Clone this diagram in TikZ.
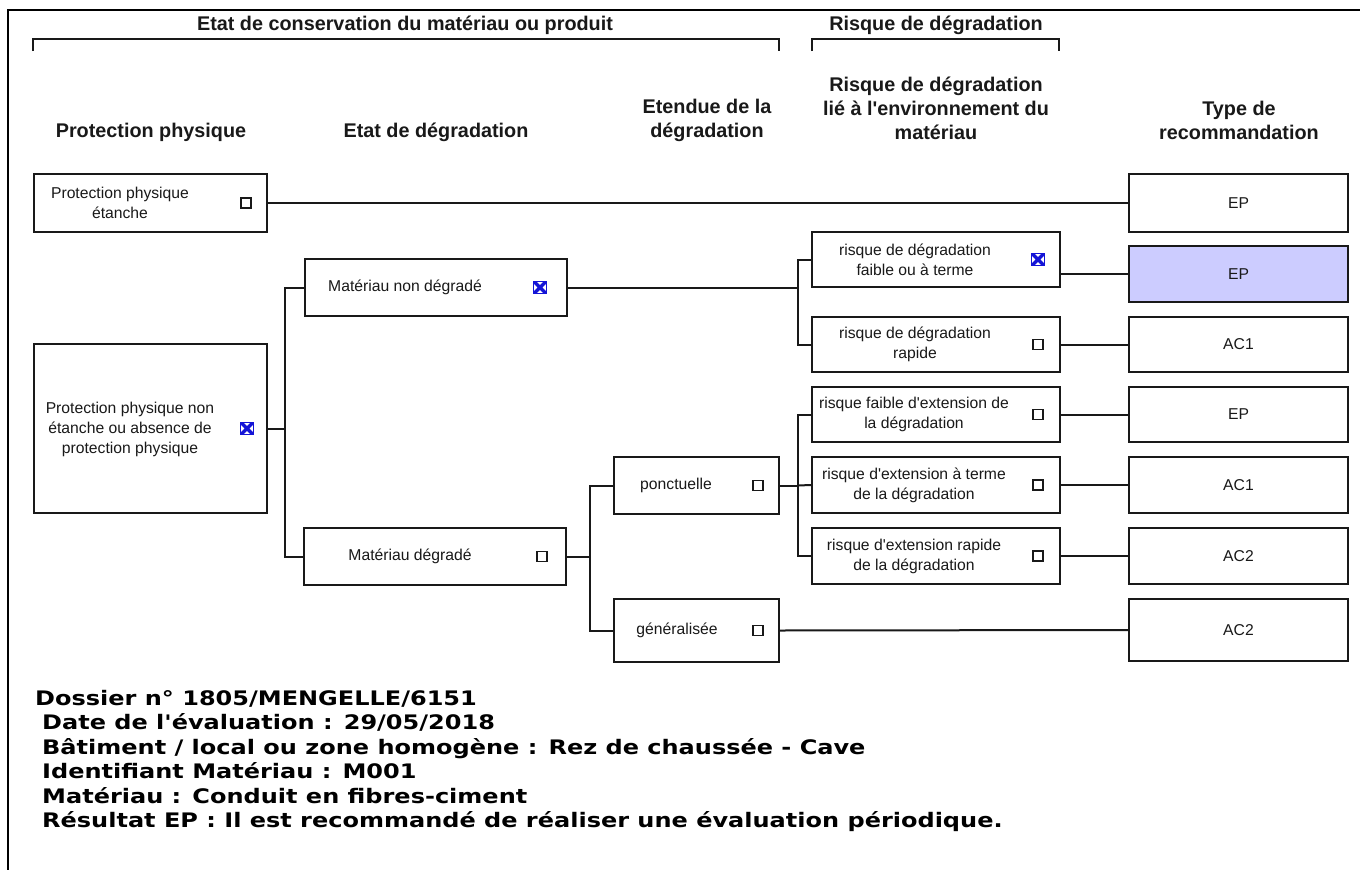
\documentclass[tikz,border=0pt]{standalone}
\usepackage{fontspec}
\newfontfamily\arl{Liberation Sans}
\newfontfamily\verd[FakeStretch=1.2]{DejaVu Sans}
\usetikzlibrary{calc}
\definecolor{shade}{RGB}{204,204,255}
\definecolor{xblue}{RGB}{20,20,215}
\definecolor{ink}{RGB}{25,25,25}
\begin{document}
\begin{tikzpicture}[x=1pt,y=-1pt,
  frame/.style={line width=2.6pt,black},
  brk/.style={line width=1.9pt,ink},
  hdr/.style={font=\arl\fontsize{19.8}{24}\selectfont\bfseries,text=ink,align=center,inner sep=0},
  box/.style={draw=ink,line width=2pt,fill=white,inner sep=0,rectangle},
  txt/.style={font=\arl\fontsize{15.7}{20}\selectfont,text=ink,align=center,inner sep=0},
  wire/.style={line width=2pt,ink},
  cbox/.style={draw=ink,line width=1.1pt,fill=white,minimum size=10pt,inner sep=0},
  xbox/.style={draw=xblue,line width=1pt,minimum size=12.5pt,inner sep=0,
    path picture={\draw[xblue,line width=3.4pt]
      (path picture bounding box.north west)--(path picture bounding box.south east)
      (path picture bounding box.north east)--(path picture bounding box.south west);}},
  info/.style={font=\verd\fontsize{20}{24.5}\selectfont\bfseries,anchor=base west,inner sep=0,text=black}
]
\useasboundingbox (0,0) rectangle (1360,870);
\fill[white] (0,0) rectangle (1360,870);
\draw[frame] (8,870) -- (8,10) -- (1360,10);

% top headers and brackets
\node[hdr] (h-cons) at (405,25) {Etat de conservation du matériau ou produit};
\node[hdr] (h-risk) at (936,25) {Risque de dégradation};
\draw[brk] (33,51) -- (33,39) -- (779,39) -- (779,51);
\draw[brk] (812,51) -- (812,39) -- (1059,39) -- (1059,51);

% column headers
\node[hdr] (c1) at (151,132) {Protection physique};
\node[hdr] (c2) at (436,132) {Etat de dégradation};
\node[hdr] (c3) at (707,120) {Etendue de la\\dégradation};
\node[hdr] (c4) at (936,108) {Risque de dégradation\\lié à l'environnement du\\matériau};
\node[hdr] (c5) at (1239,120) {Type de\\recommandation};

% boxes column 1
\node[box,minimum width=233pt,minimum height=58pt] (ppe) at (150.5,203) {};
\node[box,minimum width=233pt,minimum height=169pt] (ppn) at (150.5,428.5) {};
% column 2
\node[box,minimum width=262pt,minimum height=57pt] (mnd) at (436,287.5) {};
\node[box,minimum width=262pt,minimum height=57pt] (md) at (435,556.5) {};
% column 3
\node[box,minimum width=165pt,minimum height=57pt] (pon) at (696.5,485.5) {};
\node[box,minimum width=165pt,minimum height=63pt] (gen) at (696.5,630.5) {};
% column 4
\node[box,minimum width=248pt,minimum height=55pt] (r1) at (936,259.5) {};
\node[box,minimum width=248pt,minimum height=55pt] (r2) at (936,344.5) {};
\node[box,minimum width=248pt,minimum height=55pt] (r3) at (936,414.5) {};
\node[box,minimum width=248pt,minimum height=56pt] (r4) at (936,485) {};
\node[box,minimum width=248pt,minimum height=56pt] (r5) at (936,556) {};
% column 5
\node[box,minimum width=219pt,minimum height=58pt] (e1) at (1238.5,203) {};
\node[box,minimum width=219pt,minimum height=56pt,fill=shade] (e2) at (1238.5,274) {};
\node[box,minimum width=219pt,minimum height=55pt] (e3) at (1238.5,344.5) {};
\node[box,minimum width=219pt,minimum height=55pt] (e4) at (1238.5,414.5) {};
\node[box,minimum width=219pt,minimum height=56pt] (e5) at (1238.5,485) {};
\node[box,minimum width=219pt,minimum height=56pt] (e6) at (1238.5,556) {};
\node[box,minimum width=219pt,minimum height=62pt] (e7) at (1238.5,630) {};

% junctions
\coordinate (j1) at (285,428.5);
\coordinate (j2) at (798,287.5);
\coordinate (j3) at (590,556.5);
\coordinate (j4) at (798,485.5);

% connectors
\draw[wire] (ppe.east) -- (e1.west);
\draw[wire] (ppn.east) -- (j1);
\draw[wire] (j1) |- (mnd.west);
\draw[wire] (j1) |- (md.west);
\draw[wire] (mnd.east) -- (j2);
\draw[wire] (j2) |- (r1.west);
\draw[wire] (j2) |- (r2.west);
\draw[wire] (md.east) -- (j3);
\draw[wire] (j3) |- (pon.west);
\draw[wire] (j3) |- (gen.west);
\draw[wire] (pon.east) -- (j4);
\draw[wire] (j4) -- (r4.west);
\draw[wire] (j4) |- (r3.west);
\draw[wire] (j4) |- (r5.west);
\draw[wire] (r1.east |- e2.west) -- (e2.west);
\draw[wire] (r2.east) -- (e3.west);
\draw[wire] (r3.east) -- (e4.west);
\draw[wire] (r4.east) -- (e5.west);
\draw[wire] (r5.east) -- (e6.west);
\draw[wire] (gen.east) -- (e7.west);

% texts in boxes
\node[txt] (t-ppe) at (120,203) {Protection physique\\étanche};
\node[cbox] (k-ppe) at (246,203) {};
\node[txt] (t-ppn) at (130,429) {Protection physique non\\étanche ou absence de\\protection physique};
\node[xbox] (k-ppn) at (247,428.5) {};
\node[txt] (t-mnd) at (405,287.5) {Matériau non dégradé};
\node[xbox] (k-mnd) at (540,287.5) {};
\node[txt] (t-md) at (410,556.5) {Matériau dégradé};
\node[cbox] (k-md) at (542,556.5) {};
\node[txt] (t-pon) at (676,485.5) {ponctuelle};
\node[cbox] (k-pon) at (758,485.5) {};
\node[txt] (t-gen) at (677,630.5) {généralisée};
\node[cbox] (k-gen) at (758,630.5) {};
\node[txt] (t-r1) at (915,259.5) {risque de dégradation\\faible ou à terme};
\node[xbox] (k-r1) at (1038,259.5) {};
\node[txt] (t-r2) at (915,344.5) {risque de dégradation\\rapide};
\node[cbox] (k-r2) at (1038,344.5) {};
\node[txt] (t-r3) at (914,414.5) {risque faible d'extension de\\la dégradation};
\node[cbox] (k-r3) at (1038,414.5) {};
\node[txt] (t-r4) at (914,485) {risque d'extension à terme\\de la dégradation};
\node[cbox] (k-r4) at (1038,485) {};
\node[txt] (t-r5) at (914,556) {risque d'extension rapide\\de la dégradation};
\node[cbox] (k-r5) at (1038,556) {};
\node[txt] (l-e1) at (e1) {EP};
\node[txt] (l-e2) at (e2) {EP};
\node[txt] (l-e3) at (e3) {AC1};
\node[txt] (l-e4) at (e4) {EP};
\node[txt] (l-e5) at (e5) {AC1};
\node[txt] (l-e6) at (e6) {AC2};
\node[txt] (l-e7) at (e7) {AC2};

% info block
\node[info] (i1) at (35,705) {Dossier n° 1805/MENGELLE/6151};
\node[info] (i2) at (42,729.5) {Date de l'évaluation : 29/05/2018};
\node[info] (i3) at (42,754) {Bâtiment / local ou zone homogène : Rez de chaussée - Cave};
\node[info] (i4) at (42,778.5) {Identifiant Matériau : M001};
\node[info] (i5) at (42,803) {Matériau : Conduit en fibres-ciment};
\node[info] (i6) at (42,827.5) {Résultat EP : Il est recommandé de réaliser une évaluation périodique.};
\end{tikzpicture}
\end{document}
